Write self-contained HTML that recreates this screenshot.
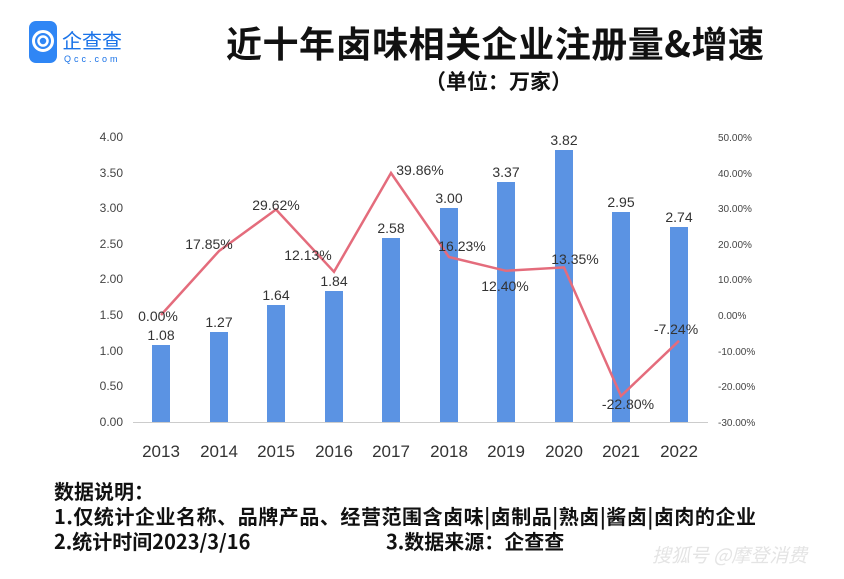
<!DOCTYPE html>
<html><head><meta charset="utf-8"><style>
body{margin:0;background:#fff;width:844px;height:574px;overflow:hidden;font-family:"Liberation Sans","Noto Sans CJK SC",sans-serif}
</style></head><body>
<svg width="844" height="574" xmlns="http://www.w3.org/2000/svg" font-family="Liberation Sans, Noto Sans CJK SC, sans-serif">
<rect x="29" y="21" width="28" height="42" rx="7" fill="#2f86f5"/>
<circle cx="43" cy="41" r="9.5" fill="none" stroke="#fff" stroke-width="3"/>
<circle cx="43" cy="41" r="4.5" fill="none" stroke="#fff" stroke-width="2.5"/>
<text x="62" y="48" font-size="20" fill="#1a73e8" font-family="Noto Sans CJK SC, sans-serif" textLength="60">企查查</text>
<text x="64" y="62" font-size="9" fill="#1a73e8" letter-spacing="3">Qcc.com</text>
<text x="226" y="57" font-size="36" font-weight="bold" fill="#111" font-family="Noto Sans CJK SC, sans-serif" textLength="538">近十年卤味相关企业注册量&amp;增速</text>
<text x="425" y="89" font-size="21" font-weight="bold" fill="#111" font-family="Noto Sans CJK SC, sans-serif">（单位：万家）</text>
<g font-size="12" fill="#444" text-anchor="end">
<text x="123" y="141">4.00</text><text x="123" y="177">3.50</text><text x="123" y="212">3.00</text><text x="123" y="248">2.50</text><text x="123" y="283">2.00</text><text x="123" y="319">1.50</text><text x="123" y="355">1.00</text><text x="123" y="390">0.50</text><text x="123" y="426">0.00</text>
</g>
<g font-size="10" fill="#444">
<text x="718" y="141">50.00%</text><text x="718" y="177">40.00%</text><text x="718" y="212">30.00%</text><text x="718" y="248">20.00%</text><text x="718" y="283">10.00%</text><text x="718" y="319">0.00%</text><text x="718" y="355">-10.00%</text><text x="718" y="390">-20.00%</text><text x="718" y="426">-30.00%</text>
</g>
<line x1="133" y1="422.5" x2="708" y2="422.5" stroke="#ccc"/>
<g fill="#5b93e3">
<rect x="152" y="345" width="18" height="77"/>
<rect x="210" y="332" width="18" height="90"/>
<rect x="267" y="305" width="18" height="117"/>
<rect x="325" y="291" width="18" height="131"/>
<rect x="382" y="238" width="18" height="184"/>
<rect x="440" y="208" width="18" height="214"/>
<rect x="497" y="182" width="18" height="240"/>
<rect x="555" y="150" width="18" height="272"/>
<rect x="612" y="212" width="18" height="210"/>
<rect x="670" y="227" width="18" height="195"/>
</g>
<g font-size="14" fill="#333" text-anchor="middle">
<text x="161" y="340">1.08</text><text x="219" y="327">1.27</text><text x="276" y="300">1.64</text><text x="334" y="286">1.84</text><text x="391" y="233">2.58</text><text x="449" y="203">3.00</text><text x="506" y="177">3.37</text><text x="564" y="145">3.82</text><text x="621" y="207">2.95</text><text x="679" y="222">2.74</text>
</g>
<polyline fill="none" stroke="#e46c7c" stroke-width="2.5" points="161,315 219,251 276,209.5 334,271.8 391,173 449,257 506,270.8 564,267.4 621,396 679,340.8"/>
<g font-size="14" fill="#333" text-anchor="middle">
<text x="158" y="321">0.00%</text><text x="209" y="249">17.85%</text><text x="276" y="210">29.62%</text><text x="308" y="260">12.13%</text><text x="420" y="175">39.86%</text><text x="462" y="251">16.23%</text><text x="505" y="291">12.40%</text><text x="575" y="264">13.35%</text><text x="628" y="409">-22.80%</text><text x="676" y="334">-7.24%</text>
</g>
<g font-size="17" fill="#333" text-anchor="middle">
<text x="161" y="457">2013</text><text x="219" y="457">2014</text><text x="276" y="457">2015</text><text x="334" y="457">2016</text><text x="391" y="457">2017</text><text x="449" y="457">2018</text><text x="506" y="457">2019</text><text x="564" y="457">2020</text><text x="621" y="457">2021</text><text x="679" y="457">2022</text>
</g>
<g font-size="20" font-weight="bold" fill="#111" font-family="Noto Sans CJK SC, sans-serif">
<text x="54" y="499">数据说明：</text>
<text x="54" y="524" textLength="702">1.仅统计企业名称、品牌产品、经营范围含卤味|卤制品|熟卤|酱卤|卤肉的企业</text>
<text x="54" y="549">2.统计时间2023/3/16</text>
<text x="386" y="549">3.数据来源：企查查</text>
</g>
<text x="652" y="562" font-size="19" fill="#e4e4e4" font-style="italic" font-family="Noto Sans CJK SC, sans-serif">搜狐号 @摩登消费</text>
</svg>
</body></html>
